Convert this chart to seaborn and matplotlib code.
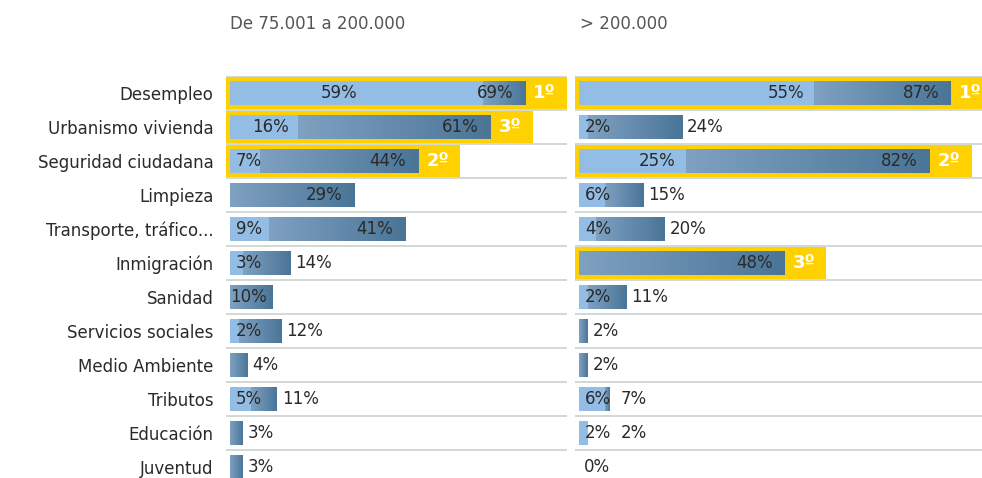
import numpy as np
import pandas as pd
import matplotlib
matplotlib.use("Agg")
import matplotlib.pyplot as plt
import seaborn as sns
from matplotlib.patches import Rectangle
from matplotlib.colors import LinearSegmentedColormap

# Data (percent)
categories = ["Desempleo", "Urbanismo vivienda", "Seguridad ciudadana", "Limpieza",
              "Transporte, tráfico...", "Inmigración", "Sanidad", "Servicios sociales",
              "Medio Ambiente", "Tributos", "Educación", "Juventud"]
titles = ["De 75.001 a 200.000", "> 200.000"]

mid_first = [59, 16, 7, 0, 9, 3, 0, 2, 0, 5, 0, 0]
mid_total = [69, 61, 44, 29, 41, 14, 10, 12, 4, 11, 3, 3]
mid_rank = [1, 3, 2, 0, 0, 0, 0, 0, 0, 0, 0, 0]

big_first = [55, 2, 25, 6, 4, 0, 2, 0, 0, 6, 2, 0]
big_total = [87, 24, 82, 15, 20, 48, 11, 2, 2, 7, 2, 0]
big_rank = [1, 0, 2, 0, 0, 3, 0, 0, 0, 0, 0, 0]

# style
LIGHT = "#94bde6"
DARK_A = "#7fa1c2"
DARK_B = "#4a7597"
YELLOW = "#ffd100"
GRID = "#c9d3d0"
TXT = "#2a2a2a"
S = 4.28  # px per percent
BAR_H = 0.68

sns.set_theme(style="white")
plt.rcParams["font.family"] = ["DejaVu Sans"]

cmap = LinearSegmentedColormap.from_list("bar", [DARK_A, DARK_B])
grad = np.linspace(0, 1, 256).reshape(1, -1)

fig = plt.figure(figsize=(9.82, 4.78), dpi=100)
renderer = fig.canvas.get_renderer()

W, H = 982, 478
ax_l = fig.add_axes([226 / W, 0, 341 / W, 402 / H])
ax_r = fig.add_axes([575 / W, 0, 407 / W, 402 / H])


def panel(ax, first, total, rank, width_px, show_cats):
    df = pd.DataFrame({"cat": categories, "first": first, "total": total})
    sns.barplot(data=df, x="total", y="cat", ax=ax, color=DARK_B, width=BAR_H,
                orient="h", saturation=1, linewidth=0, edgecolor="none", zorder=2)
    sns.barplot(data=df, x="first", y="cat", ax=ax, color=LIGHT, width=BAR_H,
                orient="h", saturation=1, linewidth=0, edgecolor="none", zorder=3)
    n = len(categories)
    dark = ax.patches[:n]

    for i in range(n):
        p = dark[i]
        y0, h = p.get_y(), p.get_height()
        f, t = first[i], total[i]
        if t > f:
            ax.imshow(grad, extent=[f, t, y0 + h, y0], cmap=cmap, aspect="auto",
                      interpolation="bilinear", zorder=2.5)
        p.set_visible(False)

        # grid line above each row
        ax.axhline(i - 0.5, color=GRID, lw=1.2, zorder=0)

        # ranking box
        if rank[i]:
            ax.add_patch(Rectangle((-4 / S, i - 0.46), t + 46 / S, 0.92,
                                   fc=YELLOW, ec="none", zorder=1))
            ax.text(t + 8 / S, i, f"{rank[i]}º", color="white", fontsize=13,
                    fontweight="bold", ha="left", va="center", zorder=5)

        # first value label
        first_right = 0
        if f > 0:
            txt = ax.text(0, i, f"{f}%", fontsize=12, color=TXT, va="center", zorder=5)
            w = txt.get_window_extent(renderer).width / S
            if (t - f) * S < 60 and t >= 25:
                txt.set_position((f / 2 - 4, i))
                txt.set_ha("center")
                first_right = f / 2 + w / 2
            elif f - 10 / S - w >= 6 / S:
                txt.set_position((f - 10 / S, i))
                txt.set_ha("right")
                first_right = f - 10 / S
            else:
                txt.set_position((6 / S, i))
                txt.set_ha("left")
                first_right = 6 / S + w

        # total label
        if t >= 25 or (f == 0 and t >= 10):
            inset = 12 / S if t >= 25 else 6 / S
            ax.text(t - inset, i, f"{t}%", fontsize=12, color=TXT, ha="right",
                    va="center", zorder=5)
        else:
            x = t + 5 / S
            if f > 0:
                x = max(x, first_right + 10 / S)
            ax.text(x, i, f"{t}%", fontsize=12, color=TXT, ha="left",
                    va="center", zorder=5)

    ax.set_xlim(-4 / S, -4 / S + width_px / S)
    ax.set_ylim(n - 1 + 11 / 34, -0.5)
    ax.set_yticks(range(n))
    if show_cats:
        ax.set_yticklabels(categories, fontsize=12, color=TXT)
    else:
        ax.set_yticklabels([])
    ax.tick_params(axis="y", length=0, pad=9)
    ax.set_xticks([])
    ax.set_xlabel("")
    ax.set_ylabel("")
    sns.despine(ax=ax, left=True, bottom=True)


panel(ax_l, mid_first, mid_total, mid_rank, 341, True)
panel(ax_r, big_first, big_total, big_rank, 407, False)

fig.text(230 / W, 1 - 24 / H, titles[0], ha="left", va="center", fontsize=12, color="#555555")
fig.text(580 / W, 1 - 24 / H, titles[1], ha="left", va="center", fontsize=12, color="#555555")

fig.savefig("out.png", dpi=100)
